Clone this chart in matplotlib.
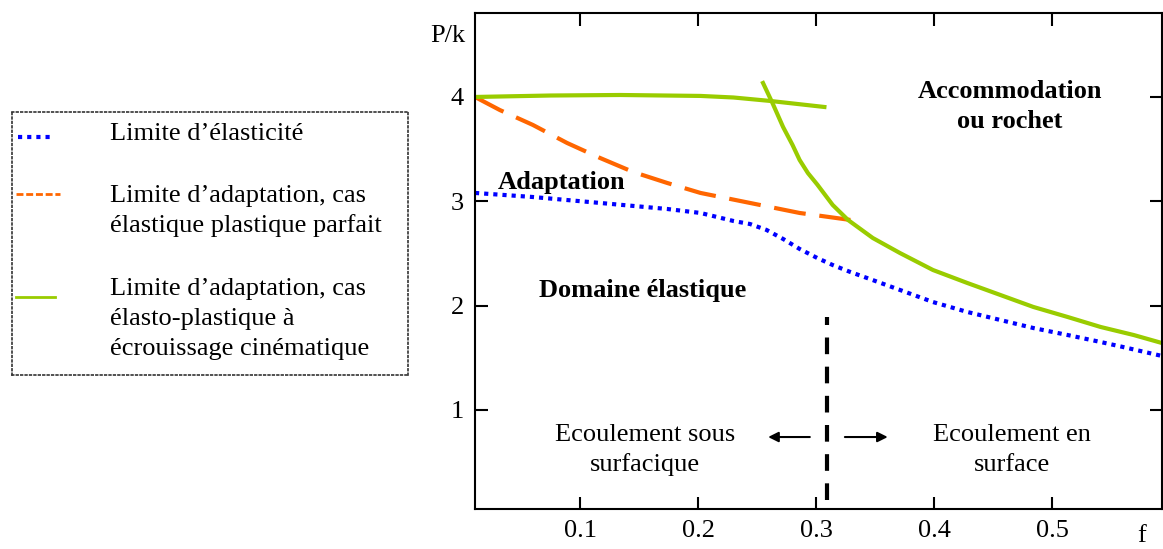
import matplotlib
matplotlib.use('Agg')
import matplotlib.pyplot as plt
from matplotlib.lines import Line2D

plt.rcParams['font.family'] = ['Liberation Serif', 'DejaVu Serif']
plt.rcParams['font.size'] = 19

# courbes (f, P/k)
elast_f = [0.011, 0.060, 0.117, 0.174, 0.202, 0.230, 0.244, 0.258, 0.272, 0.286, 0.301,
           0.314, 0.329, 0.343, 0.371, 0.399, 0.428, 0.456, 0.484, 0.513, 0.541, 0.560, 0.593]
elast_p = [3.080, 3.041, 2.984, 2.926, 2.888, 2.811, 2.782, 2.725, 2.639, 2.543, 2.456,
           2.389, 2.322, 2.265, 2.150, 2.034, 1.939, 1.862, 1.785, 1.718, 1.651, 1.603, 1.517]

adapt_f = [0.011, 0.032, 0.060, 0.089, 0.117, 0.145, 0.174, 0.202, 0.244, 0.286, 0.329]
adapt_p = [4.000, 3.875, 3.732, 3.559, 3.415, 3.281, 3.175, 3.080, 2.984, 2.888, 2.821]

cine_f = [0.011, 0.075, 0.134, 0.202, 0.230, 0.261, 0.307]
cine_p = [4.000, 4.014, 4.019, 4.010, 3.995, 3.962, 3.904]

rochet_f = [0.255, 0.263, 0.272, 0.280, 0.286, 0.293, 0.301, 0.314, 0.327, 0.348, 0.371,
            0.399, 0.428, 0.456, 0.484, 0.513, 0.541, 0.569, 0.593]
rochet_p = [4.134, 3.942, 3.712, 3.540, 3.396, 3.271, 3.160, 2.965, 2.821, 2.648, 2.504,
            2.341, 2.217, 2.102, 1.987, 1.891, 1.795, 1.718, 1.641]

sep_f = 0.309
sep_p = [0.14, 1.89]

xticks = [0.1, 0.2, 0.3, 0.4, 0.5]
yticks = [1, 2, 3, 4]

blue = '#0000FF'
orange = '#FF6600'
green = '#99CC00'

fig = plt.figure(figsize=(11.63, 5.49), dpi=100)
ax = fig.add_axes([475 / 1163, 40 / 549, 687 / 1163, 496 / 549])

ax.plot(elast_f, elast_p, color=blue, lw=3, dashes=(1, 1.2), solid_capstyle='butt')
ax.plot(adapt_f, adapt_p, color=orange, lw=3, dashes=(7.7, 3.3))
ax.plot(cine_f, cine_p, color=green, lw=3)
ax.plot(rochet_f, rochet_p, color=green, lw=3)
ax.plot([sep_f, sep_f], sep_p, color='black', lw=3, dashes=(4, 3))

ax.set_xlim(0.011, 0.593)
ax.set_ylim(0.05, 4.805)
ax.set_xticks(xticks)
ax.set_xticklabels([str(v) for v in xticks])
ax.set_yticks(yticks)
ax.tick_params(direction='in', length=9, width=1.5, top=True, right=True,
               labelsize=19, pad=8)
for s in ax.spines.values():
    s.set_linewidth(1.5)

ax.text(0.0025, 4.53, 'P/k', ha='right', va='baseline', fontsize=19)
ax.text(0.576, -0.27, 'f', ha='center', va='baseline', fontsize=19)

bold = dict(fontweight='bold', fontsize=19, ha='center', va='baseline')
ax.text(0.084, 3.118, 'Adaptation', **bold)
ax.text(0.153, 2.083, 'Domaine élastique', **bold)
ax.text(0.464, 3.99, 'Accommodation', **bold)
ax.text(0.464, 3.70, 'ou rochet', **bold)

norm = dict(fontsize=19, ha='center', va='baseline')
ax.text(0.155, 0.702, 'Ecoulement sous', **norm)
ax.text(0.155, 0.414, 'surfacique', **norm)
ax.text(0.466, 0.702, 'Ecoulement en', **norm)
ax.text(0.466, 0.414, 'surface', **norm)

arr = dict(arrowstyle='-|>', color='black', lw=1.5, mutation_scale=15)
ax.annotate('', xy=(0.257, 0.74), xytext=(0.297, 0.74), arrowprops=arr)
ax.annotate('', xy=(0.363, 0.74), xytext=(0.322, 0.74), arrowprops=arr)

# légende dessinée à la main
lax = fig.add_axes([12 / 1163, (549 - 375) / 549, 396 / 1163, 263 / 549])
lax.set_xlim(12, 408)
lax.set_ylim(375, 112)
lax.set_xticks([])
lax.set_yticks([])
for s in lax.spines.values():
    s.set_linestyle(':')
    s.set_linewidth(1.2)
    s.set_color('#333333')

lax.add_line(Line2D([18, 54], [137, 137], color=blue, lw=3, dashes=(1, 1.2)))
lax.add_line(Line2D([16, 60], [194, 194], color=orange, lw=2, dashes=(2.5, 1)))
lax.add_line(Line2D([16, 55], [297, 297], color=green, lw=2))

legend_lines = [
    (140, 'Limite d’élasticité'),
    (202, 'Limite d’adaptation, cas'),
    (232, 'élastique plastique parfait'),
    (295, 'Limite d’adaptation, cas'),
    (325, 'élasto-plastique à'),
    (355, 'écrouissage cinématique'),
]
for y, t in legend_lines:
    lax.text(110, y, t, ha='left', va='baseline', fontsize=19)

fig.savefig('out.png', dpi=100)
